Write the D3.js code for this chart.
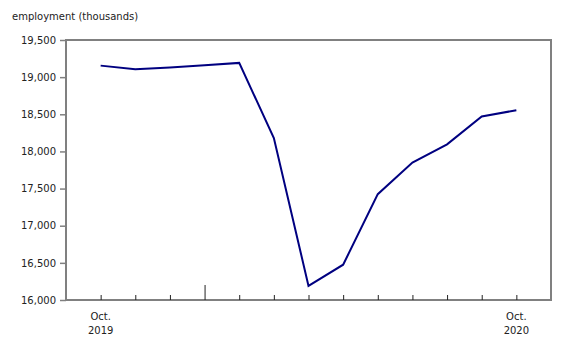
<!DOCTYPE html>
<html>
<head>
<meta charset="utf-8">
<script src="https://cdn.jsdelivr.net/npm/d3@7"></script>
<style>
  body { margin: 0; background: #fff; }
  svg text { font-family: 'DejaVu Sans', Verdana, sans-serif; font-size: 10px; fill: #222; }
</style>
</head>
<body>
<svg id="chart" width="572" height="346"></svg>
<script>
const months = ['Oct.', 'Nov.', 'Dec.', 'Jan.', 'Feb.', 'Mar.', 'Apr.', 'May', 'June', 'July', 'Aug.', 'Sept.', 'Oct.']
const employment = [19155, 19105, 19130, 19160, 19192, 18180, 16190, 16475, 17425, 17850, 18095, 18470, 18555]
const yTicks = [16000, 16500, 17000, 17500, 18000, 18500, 19000, 19500]
const xLabels = [
  { index: 0, month: 'Oct.', year: '2019' },
  { index: 12, month: 'Oct.', year: '2020' },
]
const yearBreak = 3 // January 2020

const margin = { top: 40, right: 21, bottom: 46, left: 66 }
const width = 572
const height = 346

const svg = d3.select('#chart')

const x = d3.scaleLinear()
  .domain([-1, months.length])
  .range([margin.left, width - margin.right])

const y = d3.scaleLinear()
  .domain([16000, 19500])
  .range([height - margin.bottom, margin.top])

// title
svg.append('text')
  .attr('x', 12)
  .attr('y', 20)
  .text('employment (thousands)')

// plot frame
svg.append('rect')
  .attr('x', margin.left)
  .attr('y', margin.top)
  .attr('width', width - margin.left - margin.right)
  .attr('height', height - margin.top - margin.bottom)
  .attr('fill', 'none')
  .attr('stroke', '#808080')
  .attr('stroke-width', 2)

// y axis
const yAxis = svg.append('g')
  .attr('transform', `translate(${margin.left}, 0)`)
  .call(d3.axisLeft(y).tickValues(yTicks).tickSize(6).tickPadding(4).tickFormat(d3.format(',')))
yAxis.select('.domain').remove()
yAxis.selectAll('line').attr('stroke', '#808080').attr('stroke-width', 1.5)
yAxis.selectAll('text').attr('font-size', null).attr('font-family', null)

// x axis ticks pointing up into the plot
const xAxis = svg.append('g')
  .attr('transform', `translate(0, ${height - margin.bottom})`)
  .call(d3.axisBottom(x).tickValues(d3.range(months.length)).tickSize(-5).tickFormat(''))
xAxis.select('.domain').remove()
xAxis.selectAll('line')
  .attr('stroke', '#222')
  .attr('y2', (d) => (d === yearBreak ? -15 : -5))

svg.append('g')
  .selectAll('text')
  .data(xLabels)
  .join('text')
  .attr('x', (d) => x(d.index))
  .attr('y', height - margin.bottom + 20)
  .attr('text-anchor', 'middle')
  .call((t) => {
    t.append('tspan').text((d) => d.month)
    t.append('tspan')
      .attr('x', (d) => x(d.index))
      .attr('dy', 14)
      .text((d) => d.year)
  })

// series line
const line = d3.line()
  .x((d, i) => x(i))
  .y((d) => y(d))

svg.append('path')
  .datum(employment)
  .attr('d', line)
  .attr('fill', 'none')
  .attr('stroke', '#000080')
  .attr('stroke-width', 2)
</script>
</body>
</html>
